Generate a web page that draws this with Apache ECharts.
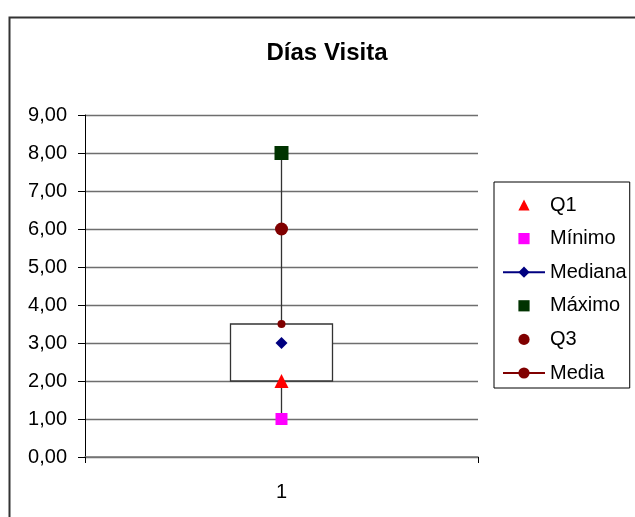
<!DOCTYPE html>
<html>
<head>
<meta charset="utf-8">
<script src="https://cdn.jsdelivr.net/npm/echarts@6/dist/echarts.min.js"></script>
<style>html,body{margin:0;padding:0;background:#fff}#c{width:635px;height:517px}</style>
</head>
<body>
<div id="c"></div>
<script>
const categories = ['1'];
const q1 = [2];
const minimo = [1];
const mediana = [3];
const maximo = [8];
const q3 = [6];
const media = [3.5];
const yTicks = { min: 0, max: 9, interval: 1 };

const font = 'Liberation Sans, Arial, sans-serif';
const chart = echarts.init(document.getElementById('c'), null, { renderer: 'canvas' });
const box = categories.map((c, i) => [q1[i], media[i], minimo[i], maximo[i]]);

function markerSeries(name, data, symbol, size, color, showLine) {
  return {
    name, type: 'line', data, symbol, symbolSize: size, showSymbol: true, z: 5,
    itemStyle: { color, opacity: 1 },
    lineStyle: { color, width: 2, opacity: showLine ? 1 : 0 }
  };
}

chart.setOption({
  animation: false,
  backgroundColor: '#fff',
  graphic: [{
    type: 'rect', left: 7, top: 15, z: 100,
    shape: { width: 640, height: 520 },
    style: { fill: 'none', stroke: '#333', lineWidth: 2 }
  }],
  title: {
    text: 'Días Visita', left: 322, top: 36, textAlign: 'center',
    textStyle: { fontFamily: font, fontSize: 24, fontWeight: 'bold', color: '#000' }
  },
  grid: { left: 85, right: 157, top: 115, bottom: 60 },
  legend: {
    orient: 'vertical', left: 494, top: 182,
    padding: [13, 3, 5, 8],
    borderColor: '#000', borderWidth: 1,
    itemWidth: 42, itemHeight: 14, itemGap: 13.6,
    textStyle: { fontFamily: font, fontSize: 20, color: '#000', lineHeight: 20 },
    data: ['Q1', 'Mínimo', 'Mediana', 'Máximo', 'Q3', 'Media']
  },
  xAxis: {
    type: 'category', data: categories, boundaryGap: true,
    axisLine: { lineStyle: { color: '#777', width: 1.5 } },
    axisTick: { show: true, length: 6, lineStyle: { color: '#000' } },
    axisLabel: { fontFamily: font, fontSize: 20, color: '#000', margin: 25 }
  },
  yAxis: {
    type: 'value', min: yTicks.min, max: yTicks.max, interval: yTicks.interval,
    axisLine: { show: true, lineStyle: { color: '#000' } },
    axisTick: { show: true, length: 7, lineStyle: { color: '#000' } },
    axisLabel: {
      fontFamily: font, fontSize: 20, color: '#000', margin: 18,
      formatter: v => v.toFixed(2).replace('.', ',')
    },
    splitLine: { show: true, lineStyle: { color: '#6e6e6e', width: 1.3 } }
  },
  series: [
    {
      type: 'candlestick', data: box, barWidth: 102, barMaxWidth: 102,
      itemStyle: { color: '#fff', color0: '#fff', borderColor: '#333', borderColor0: '#333', borderWidth: 1.3 },
      z: 1, silent: true
    },
    markerSeries('Q1', q1, 'triangle', 14, '#ff0000', false),
    markerSeries('Mínimo', minimo, 'rect', 12, '#ff00ff', false),
    markerSeries('Mediana', mediana, 'diamond', 12, '#000080', true),
    markerSeries('Máximo', maximo, 'rect', 14, '#003300', false),
    markerSeries('Q3', q3, 'circle', 13, '#800000', false),
    markerSeries('Media', media, 'circle', 8, '#800000', true)
  ]
});
</script>
</body>
</html>
